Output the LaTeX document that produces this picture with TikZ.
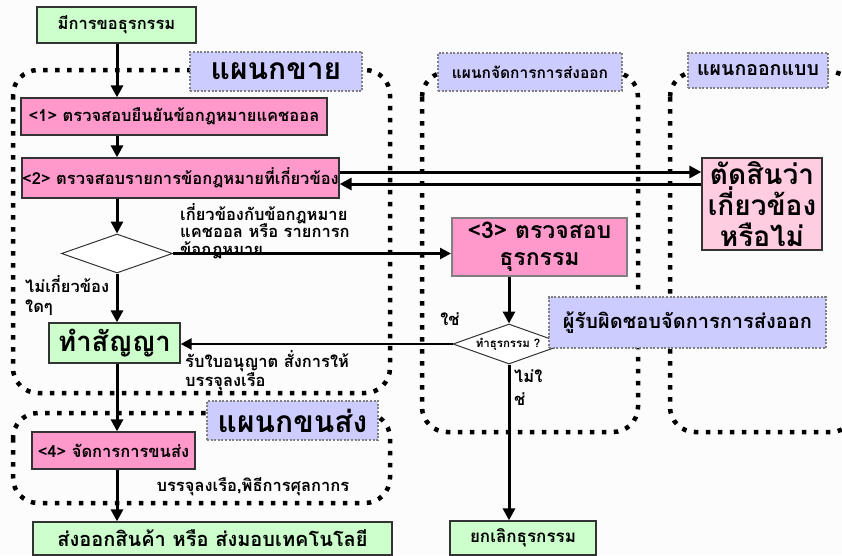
\documentclass[tikz,border=0pt]{standalone}
\usepackage{fontspec}
\setmainfont[Script=Thai]{Loma}
\usetikzlibrary{arrows.meta,shapes.geometric}
\definecolor{cgreen}{HTML}{CCFFCC}
\definecolor{cpink}{HTML}{FF99CC}
\definecolor{clpink}{HTML}{FFCCE0}
\definecolor{clav}{HTML}{CCCCFF}
\definecolor{cedge}{HTML}{333333}
\definecolor{cgrayedge}{HTML}{808080}
\definecolor{cbg}{HTML}{FCFCFC}
\newcommand{\fsz}[2]{\bfseries\fontsize{#1}{#2}\selectfont}
\tikzset{
  lane/.style={draw=black, line width=4.5pt, line cap=butt, dash pattern=on 4.5pt off 7.5pt, rounded corners=25pt},
  lanelabel/.style={draw=cgrayedge, fill=clav, line width=2pt, dash pattern=on 2pt off 1.6pt, inner sep=0pt, font=\bfseries},
  boxstyle/.style={draw=cedge, line width=1.3pt, inner sep=0pt, font=\bfseries, align=center},
  greenbox/.style={boxstyle, fill=cgreen},
  pinkbox/.style={boxstyle, fill=cpink},
  decbox/.style={draw=cedge, line width=1pt, fill=white, diamond, inner sep=0pt},
  arr/.style={line width=3pt, -{Triangle[length=12pt,width=12pt]}},
  harr/.style={line width=2.5pt, -{Triangle[length=11pt,width=11pt]}},
  lbl/.style={font=\bfseries, inner sep=0pt, align=left},
}
\begin{document}
\begin{tikzpicture}[x=1pt,y=-1pt]
\useasboundingbox[fill=cbg] (0,0) rectangle (842,555);
% lanes
\draw[lane] (13,70) rectangle (390,393);
\draw[lane] (13,413) rectangle (390,503);
\draw[lane] (422,72) rectangle (638,432);
\draw[lane] (670,72) rectangle (856,432);
% lane labels
\node[lanelabel, minimum width=172pt, minimum height=39pt, font=\fsz{30}{30}] (lsales) at (276,71.5) {แผนกขาย};
\node[lanelabel, minimum width=171pt, minimum height=39pt, font=\fsz{30}{30}] (ltrans) at (292.5,420.5) {แผนกขนส่ง};
\node[lanelabel, minimum width=184pt, minimum height=38pt, font=\fsz{15.5}{15.5}] (lexport) at (530,72) {แผนกจัดการการส่งออก};
\node[lanelabel, minimum width=140pt, minimum height=35pt, font=\fsz{19.5}{19.5}] (ldesign) at (758,70.5) {แผนกออกแบบ};
% spine
\coordinate (spine) at (117,0);
% boxes
\node[greenbox, minimum width=159pt, minimum height=36pt, font=\fsz{16.5}{16.5}] (top) at (116.5,25) {มีการขอธุรกรรม};
\node[pinkbox, minimum width=306pt, minimum height=37pt, font=\fsz{16.5}{16.5}] (b1) at (174,116.5) {<1> ตรวจสอบยืนยันข้อกฎหมายแคชออล};
\node[pinkbox, minimum width=317pt, minimum height=40pt, font=\fsz{16.5}{16.5}] (b2) at (180.5,178) {<2> ตรวจสอบรายการข้อกฎหมายที่เกี่ยวข้อง};
\node[boxstyle, fill=clpink, minimum width=120pt, minimum height=92pt, font=\fsz{28}{31}] (decide) at (762,204) {ตัดสินว่า\\เกี่ยวข้อง\\หรือไม่};
\node[decbox, minimum width=111pt, minimum height=39pt] (d1) at (117,253.5) {};
\node[boxstyle, fill=cpink, draw=cgrayedge, line width=2pt, minimum width=175pt, minimum height=58pt, font=\fsz{23}{27}] (b3) at (539.5,247) {<3> ตรวจสอบ\\ธุรกรรม};
\node[greenbox, minimum width=131pt, minimum height=40pt, font=\fsz{27.5}{27.5}] (contract) at (114.5,343) {ทำสัญญา};
\node[decbox, minimum width=112pt, minimum height=40pt] (d2) at (509,344) {};
\node[lbl, font=\fsz{11.5}{11.5}] (d2txt) at (508,344) {ทำธุรกรรม ?};
\node[lanelabel, minimum width=277pt, minimum height=51pt, font=\fsz{20}{20}] (resp) at (687.5,322.5) {ผู้รับผิดชอบจัดการการส่งออก};
\node[pinkbox, minimum width=163pt, minimum height=37pt, font=\fsz{16.5}{16.5}] (b4) at (113.5,450.5) {<4> จัดการการขนส่ง};
\node[greenbox, minimum width=359pt, minimum height=33pt, font=\fsz{20}{20}] (final) at (212.5,538.5) {ส่งออกสินค้า หรือ ส่งมอบเทคโนโลยี};
\node[greenbox, minimum width=146pt, minimum height=34pt, font=\fsz{17}{17}] (cancel) at (523,538) {ยกเลิกธุรกรรม};
% labels
\node[lbl, anchor=north west, font=\fsz{16.5}{17.5}] (t1) at (180,203) {เกี่ยวข้องกับข้อกฎหมาย\\แคชออล หรือ รายการก\\ข้อกฎหมาย};
\node[lbl, anchor=north west, font=\fsz{16.5}{20}] (t2) at (25,275) {ไม่เกี่ยวข้อง\\ใดๆ};
\node[lbl, anchor=north west, font=\fsz{16.5}{18}] (t3) at (185,350) {รับใบอนุญาต สั่งการให้\\บรรจุลงเรือ};
\node[lbl, font=\fsz{16.5}{16.5}] (t4) at (253,487) {บรรจุลงเรือ,พิธีการศุลกากร};
\node[lbl, font=\fsz{16.5}{16.5}] (tyes) at (450,319) {ใช่};
\node[lbl, anchor=north west, font=\fsz{16.5}{23}] (tno) at (514,369) {ไม่ใ\\ช่};
% connectors
\draw[arr] (top.south -| spine) -- (b1.north -| spine);
\draw[arr] (b1.south -| spine) -- (b2.north -| spine);
\draw[arr] (b2.south -| spine) -- (d1.north);
\draw[arr] (d1.south) -- (contract.north -| spine);
\draw[arr] (contract.south -| spine) -- (b4.north -| spine);
\draw[arr] (b4.south -| spine) -- (final.north -| spine);
\draw[arr] ([yshift=6pt]b2.east) -- ([yshift=6pt]b2.east -| decide.west);
\draw[arr] ([yshift=-6pt]b2.east -| decide.west) -- ([yshift=-6pt]b2.east);
\draw[harr] (d1.east) -- (d1.east -| b3.west);
\draw[arr] (b3.south -| d2.north) -- (d2.north);
\draw[harr] (d2.west) -- (d2.west -| contract.east);
\draw[arr] (d2.south) -- (d2.south |- cancel.north);
\end{tikzpicture}
\end{document}
